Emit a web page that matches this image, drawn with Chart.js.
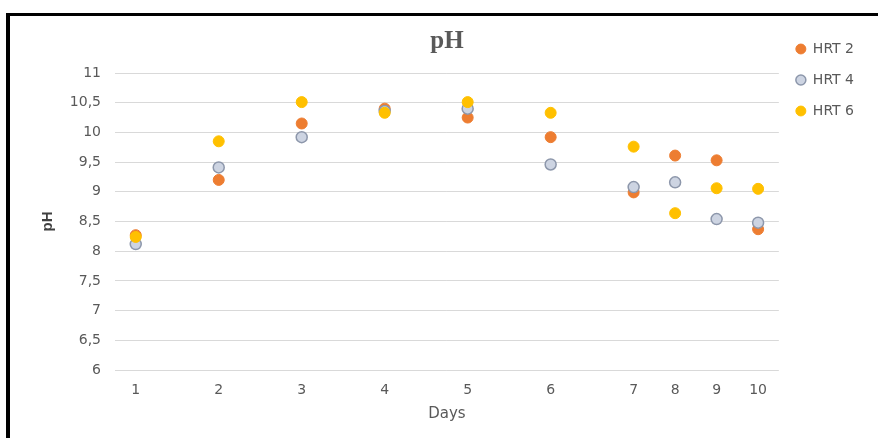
<!DOCTYPE html>
<html>
<head>
<meta charset="utf-8">
<script src="https://cdn.jsdelivr.net/npm/chart.js@4"></script>
<style>
  html, body { margin: 0; padding: 0; background: #fff; overflow: hidden; }
  #frame { position: absolute; left: 6px; top: 13px; width: 1000px; height: 1000px;
           border-left: 4px solid #000; border-top: 3px solid #000; }
  #wrap { position: absolute; left: 0; top: 0; width: 878px; height: 438px; }
</style>
</head>
<body>
<div id="frame"></div>
<div id="wrap"><canvas id="c" width="878" height="438"></canvas></div>
<script>
// Tick labels of the category axis (blank slots reproduce the uneven day spacing)
const xTickLabels = ['1','','2','','3','','4','','5','','6','','7','8','9','10'];
const days = ['1','2','3','4','5','6','7','8','9','10'];
const hrt2 = [8.27, 9.20, 10.15, 10.40, 10.25, 9.92, 8.99, 9.61, 9.53, 8.37];
const hrt4 = [8.12, 9.41, 9.92, 10.36, 10.40, 9.46, 9.08, 9.16, 8.54, 8.48];
const hrt6 = [8.24, 9.85, 10.51, 10.33, 10.51, 10.33, 9.76, 8.64, 9.06, 9.05];
const seriesNames = ['HRT 2', 'HRT 4', 'HRT 6'];

const toPts = arr => days.map((d, i) => ({ x: d, y: arr[i] }));
const txt = '#595959';
const sans = 'DejaVu Sans';

new Chart(document.getElementById('c'), {
  type: 'line',
  data: {
    labels: xTickLabels,
    datasets: [
      { label: seriesNames[0], data: toPts(hrt2), showLine: false, order: 2,
        pointRadius: 5.5, pointBackgroundColor: '#ED7D31', pointBorderColor: '#ED7D31', pointBorderWidth: 1,
        backgroundColor: '#ED7D31', borderColor: '#ED7D31' },
      { label: seriesNames[1], data: toPts(hrt4), showLine: false, order: 1,
        pointRadius: 5.5, pointBackgroundColor: '#cdd4e2', pointBorderColor: '#8d97ab', pointBorderWidth: 1.5,
        backgroundColor: '#cdd4e2', borderColor: '#8d97ab' },
      { label: seriesNames[2], data: toPts(hrt6), showLine: false, order: 0,
        pointRadius: 5.5, pointBackgroundColor: '#FFC000', pointBorderColor: '#FFC000', pointBorderWidth: 1,
        backgroundColor: '#FFC000', borderColor: '#FFC000' }
    ]
  },
  options: {
    responsive: false,
    animation: false,
    events: [],
    layout: { padding: { left: 10, top: 25, right: 14, bottom: 8 } },
    plugins: {
      title: {
        display: true, text: 'pH', fullSize: false, color: txt,
        font: { family: 'Liberation Serif', size: 25, weight: 'bold' },
        padding: { top: 2, bottom: 16 }
      },
      legend: {
        display: true, position: 'right', align: 'start',
        labels: {
          usePointStyle: true, pointStyle: 'circle', boxHeight: 7, pointStyleWidth: 10,
          padding: 17, color: txt, font: { family: sans, size: 14 },
          sort: (a, b) => a.datasetIndex - b.datasetIndex
        }
      },
      tooltip: { enabled: false }
    },
    scales: {
      x: {
        type: 'category', offset: true,
        grid: { display: false, drawTicks: false },
        border: { display: false },
        ticks: { autoSkip: false, maxRotation: 0, padding: 12, color: txt, font: { family: sans, size: 14 } },
        title: { display: true, text: 'Days', color: txt, font: { family: sans, size: 15 }, padding: { top: 0, bottom: 7 } },
        afterFit: s => { s.height = 60; }
      },
      y: {
        min: 6, max: 11,
        grid: { color: '#d9d9d9', lineWidth: 1, drawTicks: false },
        border: { display: false },
        ticks: { stepSize: 0.5, padding: 14, color: txt, font: { family: sans, size: 14 },
                 callback: v => String(v).replace('.', ',') },
        title: { display: true, text: 'pH', color: '#404040', font: { family: 'Liberation Sans', size: 15, weight: 'bold' },
                 padding: { top: 29, bottom: 0 } },
        afterFit: s => { s.width = 105; }
      }
    }
  }
});
</script>
</body>
</html>
